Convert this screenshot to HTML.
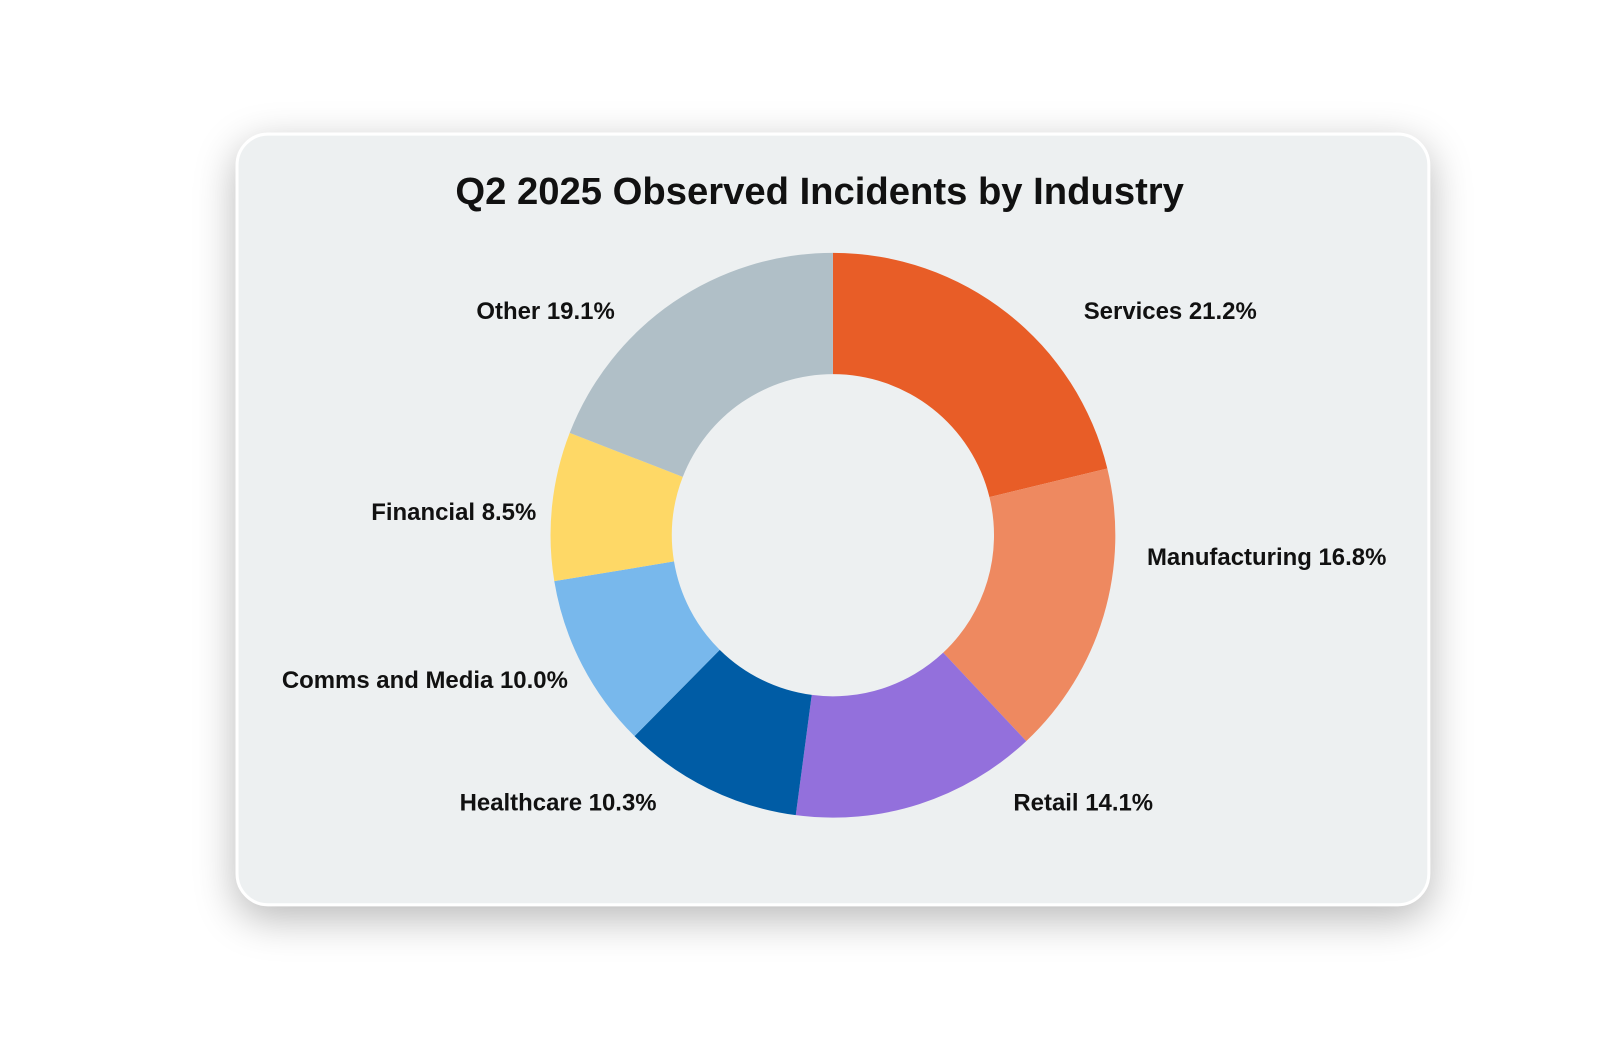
<!DOCTYPE html>
<html><head><meta charset="utf-8">
<style>
html,body{margin:0;padding:0;background:#fff;width:1600px;height:1037px;overflow:hidden}
#w{position:absolute;left:0;top:0;width:1600px;height:1037px;transform:scale(1.0195);transform-origin:0 0}
.card{position:absolute;left:231px;top:130px;width:1166px;height:753px;background:#edf0f1;border:3px solid #fff;border-radius:32px;box-shadow:0 12px 40px rgba(0,0,0,0.28)}
svg{position:absolute;left:0;top:0}
text{font-family:"Liberation Sans",sans-serif;fill:#111}
</style></head><body>
<div id="w">
<div class="card"></div>
<svg width="1600" height="1037">
<text x="804" y="200" font-size="37.5" font-weight="700" text-anchor="middle">Q2 2025 Observed Incidents by Industry</text>
<g id="g"></g>
<g font-size="23.5" font-weight="600">
<text x="603" y="313" text-anchor="end">Other 19.1%</text>
<text x="1063" y="313">Services 21.2%</text>
<text x="1125" y="554">Manufacturing 16.8%</text>
<text x="994" y="795">Retail 14.1%</text>
<text x="644" y="795" text-anchor="end">Healthcare 10.3%</text>
<text x="557" y="675" text-anchor="end">Comms and Media 10.0%</text>
<text x="526" y="510" text-anchor="end">Financial 8.5%</text>
</g>
</svg>
</div>
<script>
var d=[[21.2,"#e85d27"],[16.8,"#ee8960"],[14.1,"#9370dc"],[10.3,"#005ca5"],[10.0,"#78b8ec"],[8.5,"#fed866"],[19.1,"#b0bfc7"]];
var cx=817,cy=525,R=277,r=158,a=0,h="";
function p(rad,ang){return [cx+rad*Math.sin(ang),cy-rad*Math.cos(ang)];}
d.forEach(function(s){var a0=a*Math.PI/50,a1=(a+s[0])*Math.PI/50;a+=s[0];
var l=(a1-a0)>Math.PI?1:0;var A=p(R,a0),B=p(R,a1),C=p(r,a1),D=p(r,a0);
h+='<path fill="'+s[1]+'" d="M'+A+' A'+R+','+R+' 0 '+l+' 1 '+B+' L'+C+' A'+r+','+r+' 0 '+l+' 0 '+D+' Z"/>';});
document.getElementById("g").innerHTML=h;
</script>
</body></html>
